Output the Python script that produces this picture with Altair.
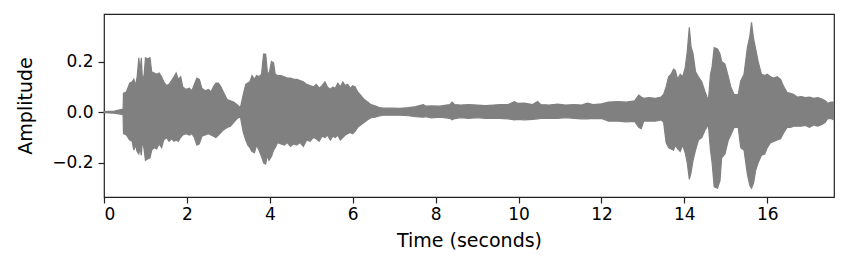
import altair as alt
import pandas as pd

# Envelope of the waveform: time (s), upper and lower amplitude
times = [0.00, 0.25, 0.40, 0.46, 0.47, 0.54, 0.62, 0.68, 0.72, 0.76, 0.80, 0.84, 0.87, 0.90, 0.93, 0.97,
         1.00, 1.05, 1.11, 1.15, 1.21, 1.27, 1.33, 1.39, 1.44, 1.51, 1.57, 1.63, 1.69, 1.74, 1.79, 1.85,
         1.90, 1.98, 2.06, 2.12, 2.18, 2.24, 2.30, 2.36, 2.44, 2.52, 2.58, 2.64, 2.70, 2.76, 2.82, 2.88,
         2.97, 3.05, 3.13, 3.21, 3.29, 3.32, 3.36, 3.42, 3.47, 3.52, 3.57, 3.63, 3.68, 3.74, 3.80, 3.85,
         3.90, 3.94, 3.98, 4.04, 4.09, 4.13, 4.19, 4.27, 4.35, 4.42, 4.50, 4.58, 4.65, 4.73, 4.81, 4.89,
         4.97, 5.05, 5.12, 5.19, 5.26, 5.33, 5.39, 5.46, 5.52, 5.58, 5.64, 5.70, 5.76, 5.82, 5.88, 5.94,
         6.00, 6.06, 6.12, 6.20, 6.28, 6.36, 6.44, 6.54, 6.64, 6.74, 6.94, 7.14, 7.34, 7.52, 7.70, 7.76,
         7.90, 8.10, 8.34, 8.40, 8.46, 8.60, 8.80, 9.00, 9.20, 9.40, 9.55, 9.75, 9.90, 9.98, 10.14, 10.34,
         10.46, 10.54, 10.74, 10.94, 11.14, 11.34, 11.52, 11.66, 11.80, 12.00, 12.17, 12.40, 12.60, 12.80,
         12.90, 12.96, 13.02, 13.15, 13.30, 13.44, 13.50, 13.56, 13.62, 13.68, 13.74, 13.78, 13.84, 13.90,
         13.96, 14.02, 14.07, 14.12, 14.16, 14.21, 14.27, 14.34, 14.42, 14.50, 14.58, 14.63, 14.67, 14.72,
         14.80, 14.86, 14.90, 14.98, 15.06, 15.12, 15.20, 15.30, 15.36, 15.44, 15.52, 15.58, 15.62, 15.67,
         15.72, 15.78, 15.86, 15.94, 16.00, 16.08, 16.16, 16.24, 16.32, 16.40, 16.48, 16.56, 16.64, 16.72,
         16.82, 16.92, 17.02, 17.12, 17.22, 17.32, 17.40, 17.46, 17.54, 17.60]

upper = [0.002, 0.004, 0.010, 0.012, 0.075, 0.080, 0.115, 0.120, 0.130, 0.105, 0.140, 0.215, 0.160, 0.215, 0.120, 0.150,
         0.215, 0.210, 0.215, 0.160, 0.155, 0.150, 0.155, 0.140, 0.120, 0.105, 0.110, 0.125, 0.140, 0.155, 0.130, 0.140,
         0.100, 0.090, 0.095, 0.085, 0.110, 0.135, 0.130, 0.095, 0.085, 0.090, 0.080, 0.100, 0.115, 0.115, 0.100, 0.080,
         0.050, 0.045, 0.040, 0.030, 0.018, 0.040, 0.070, 0.110, 0.115, 0.120, 0.145, 0.130, 0.145, 0.140, 0.150, 0.230,
         0.230, 0.160, 0.150, 0.200, 0.195, 0.150, 0.145, 0.145, 0.140, 0.135, 0.135, 0.130, 0.130, 0.125, 0.120, 0.110,
         0.105, 0.100, 0.110, 0.095, 0.105, 0.120, 0.100, 0.090, 0.100, 0.095, 0.115, 0.100, 0.120, 0.105, 0.110, 0.095,
         0.105, 0.100, 0.080, 0.065, 0.050, 0.040, 0.030, 0.025, 0.018, 0.016, 0.016, 0.015, 0.018, 0.022, 0.030, 0.024,
         0.025, 0.024, 0.030, 0.040, 0.030, 0.028, 0.030, 0.028, 0.026, 0.028, 0.030, 0.030, 0.042, 0.035, 0.036, 0.030,
         0.042, 0.030, 0.028, 0.032, 0.028, 0.030, 0.028, 0.036, 0.030, 0.033, 0.040, 0.042, 0.040, 0.045,
         0.068, 0.060, 0.055, 0.058, 0.055, 0.060, 0.070, 0.100, 0.140, 0.150, 0.170, 0.165, 0.130, 0.150,
         0.140, 0.175, 0.240, 0.335, 0.260, 0.230, 0.160, 0.140, 0.120, 0.080, 0.045, 0.150, 0.180, 0.255,
         0.250, 0.230, 0.200, 0.190, 0.140, 0.100, 0.070, 0.070, 0.124, 0.150, 0.255, 0.300, 0.355, 0.290,
         0.250, 0.200, 0.150, 0.145, 0.150, 0.140, 0.135, 0.140, 0.130, 0.100, 0.078, 0.075, 0.070, 0.060,
         0.062, 0.058, 0.060, 0.055, 0.058, 0.052, 0.045, 0.035, 0.040, 0.040]

lower = [-0.002, -0.004, -0.008, -0.010, -0.085, -0.090, -0.110, -0.115, -0.150, -0.130, -0.155, -0.165, -0.140, -0.170, -0.110, -0.150,
         -0.190, -0.185, -0.180, -0.150, -0.140, -0.145, -0.125, -0.140, -0.110, -0.100, -0.115, -0.105, -0.115, -0.110, -0.115, -0.100,
         -0.090, -0.085, -0.090, -0.085, -0.100, -0.130, -0.125, -0.095, -0.090, -0.085, -0.090, -0.095, -0.100, -0.090, -0.080, -0.070,
         -0.060, -0.055, -0.040, -0.025, -0.018, -0.045, -0.080, -0.110, -0.130, -0.140, -0.155, -0.160, -0.130, -0.150, -0.175, -0.200,
         -0.205, -0.170, -0.190, -0.175, -0.150, -0.140, -0.120, -0.125, -0.130, -0.120, -0.135, -0.125, -0.130, -0.120, -0.135, -0.110,
         -0.115, -0.100, -0.105, -0.115, -0.095, -0.100, -0.090, -0.110, -0.095, -0.100, -0.090, -0.110, -0.100, -0.090, -0.085, -0.080,
         -0.085, -0.075, -0.060, -0.050, -0.040, -0.030, -0.022, -0.020, -0.015, -0.012, -0.012, -0.012, -0.014, -0.018, -0.020, -0.018,
         -0.022, -0.020, -0.024, -0.030, -0.025, -0.022, -0.024, -0.022, -0.024, -0.024, -0.024, -0.026, -0.030, -0.028, -0.030, -0.028,
         -0.026, -0.024, -0.024, -0.024, -0.022, -0.024, -0.026, -0.026, -0.024, -0.025, -0.035, -0.035, -0.038, -0.036,
         -0.060, -0.065, -0.035, -0.035, -0.035, -0.030, -0.040, -0.120, -0.140, -0.145, -0.150, -0.130, -0.145, -0.155,
         -0.130, -0.160, -0.200, -0.265, -0.240, -0.190, -0.150, -0.110, -0.100, -0.070, -0.050, -0.150, -0.200, -0.295,
         -0.300, -0.270, -0.180, -0.165, -0.110, -0.090, -0.060, -0.060, -0.140, -0.150, -0.245, -0.290, -0.300, -0.280,
         -0.230, -0.200, -0.170, -0.165, -0.140, -0.120, -0.115, -0.110, -0.105, -0.080, -0.060, -0.060, -0.055, -0.055,
         -0.055, -0.052, -0.060, -0.050, -0.055, -0.048, -0.040, -0.025, -0.025, -0.030]

x_ticks = [0, 2, 4, 6, 8, 10, 12, 14, 16]
y_ticks = [-0.2, 0.0, 0.2]

df = pd.DataFrame({"t": times, "up": upper, "lo": lower})

FONT = "DejaVu Sans"
FS = 17
TS = 19

chart = alt.Chart(df).mark_area(
    color="#808080", interpolate="linear", stroke="#808080", strokeWidth=1.2
).encode(
    x=alt.X("t:Q",
            scale=alt.Scale(domain=[0, 17.61], nice=False, zero=False),
            axis=alt.Axis(values=x_ticks, title="Time (seconds)", format="d",
                          grid=False, domain=False, tickSize=6, tickColor="#222",
                          tickWidth=1.2,
                          labelColor="#000", labelFont=FONT, labelFontSize=FS,
                          labelPadding=3, titleFont=FONT, titleFontSize=TS,
                          titleFontWeight="normal", titleColor="#000", titlePadding=9)),
    y=alt.Y("up:Q",
            scale=alt.Scale(domain=[-0.335, 0.388], nice=False, zero=False),
            axis=alt.Axis(values=y_ticks, title="Amplitude",
                          labelExpr="replace(format(datum.value, '.1f'), '-', '\u2212')",
                          grid=False, domain=False, tickSize=6, tickColor="#222",
                          tickWidth=1.2,
                          labelColor="#000", labelFont=FONT, labelFontSize=FS,
                          labelPadding=5, titleFont=FONT, titleFontSize=TS,
                          titleFontWeight="normal", titleColor="#000", titlePadding=16)),
    y2="lo:Q",
).properties(
    width=730, height=183,
    padding={"left": 104, "top": 14, "right": 14, "bottom": 74},
    autosize="none",
).configure(
    background="white",
    view=alt.ViewConfig(stroke="#222", strokeWidth=1.2),
)

chart.save("out.html", embed_options={"renderer": "svg", "actions": False})
